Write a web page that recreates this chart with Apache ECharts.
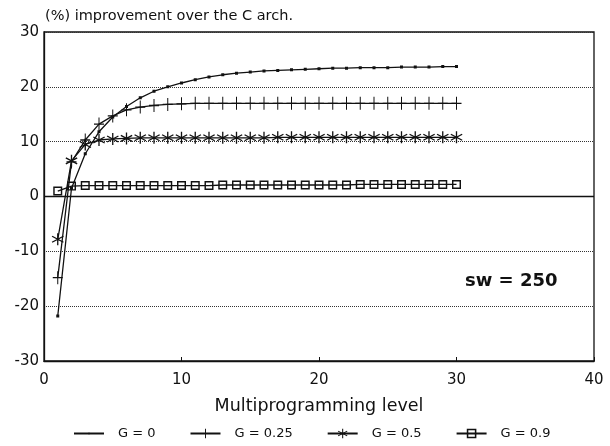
<!DOCTYPE html>
<html>
<head>
<meta charset="utf-8">
<script src="https://cdn.jsdelivr.net/npm/echarts@6/dist/echarts.min.js"></script>
<style>
  html, body { margin: 0; padding: 0; background: #fff; }
  #chart { width: 610px; height: 446px; }
</style>
</head>
<body>
<div id="chart"></div>
<script>
// multiprogramming level 1..30
var levels = [1, 2, 3, 4, 5, 6, 7, 8, 9, 10, 11, 12, 13, 14, 15,
              16, 17, 18, 19, 20, 21, 22, 23, 24, 25, 26, 27, 28, 29, 30];

var g0   = [-21.8, 1.5, 7.8, 11.8, 14.5, 16.4, 18.0, 19.2, 20.0, 20.7,
            21.3, 21.8, 22.2, 22.5, 22.7, 22.9, 23.0, 23.1, 23.2, 23.3,
            23.4, 23.4, 23.5, 23.5, 23.5, 23.6, 23.6, 23.6, 23.7, 23.7];
var g025 = [-14.8, 6.3, 10.3, 13.2, 14.7, 15.8, 16.3, 16.6, 16.8, 16.9,
            17.0, 17.0, 17.0, 17.0, 17.0, 17.0, 17.0, 17.0, 17.0, 17.0,
            17.0, 17.0, 17.0, 17.0, 17.0, 17.0, 17.0, 17.0, 17.0, 17.0];
var g05  = [-7.8, 6.5, 9.5, 10.3, 10.5, 10.6, 10.7, 10.7, 10.7, 10.7,
            10.7, 10.7, 10.7, 10.7, 10.7, 10.7, 10.8, 10.8, 10.8, 10.8,
            10.8, 10.8, 10.8, 10.8, 10.8, 10.8, 10.8, 10.8, 10.8, 10.8];
var g09  = [1.0, 1.9, 2.0, 2.0, 2.0, 2.0, 2.0, 2.0, 2.0, 2.0,
            2.0, 2.0, 2.1, 2.1, 2.1, 2.1, 2.1, 2.1, 2.1, 2.1,
            2.1, 2.1, 2.2, 2.2, 2.2, 2.2, 2.2, 2.2, 2.2, 2.2];

var seriesNames = ['G = 0', 'G = 0.25', 'G = 0.5', 'G = 0.9'];
var yTicks = [-30, -20, -10, 0, 10, 20, 30];
var xTicks = [0, 10, 20, 30, 40];

// marker shapes (filled outlines so they work as path symbols)
// tiny dot inside an empty 20x20 box, so it stays small in the legend too
var dotPath = 'path://M0,0L0,0ZM20,20L20,20ZM8.5,8.5h3v3h-3z';
var plusPath = 'path://M9,0h2v20h-2zM0,9h20v2h-20z';
var starPath = 'path://M9,0h2v20h-2z' +
  'M1.84,4.13L19.16,14.13L18.16,15.87L0.84,5.87z' +
  'M0.84,14.13L18.16,4.13L19.16,5.87L1.84,15.87z';
var boxPath = 'path://M0,0h10v10h-10zM1.6,1.6v6.8h6.8v-6.8z';

function pairs(ys) {
  return levels.map(function (x, i) { return [x, ys[i]]; });
}

var font = '"DejaVu Sans", Verdana, sans-serif';
var black = '#111';

function line(name, ys, symbol, size) {
  return {
    name: name,
    type: 'line',
    data: pairs(ys),
    symbol: symbol,
    symbolSize: size,
    showAllSymbol: true,
    color: black,
    lineStyle: { color: black, width: 1.3 },
    itemStyle: { color: black, borderWidth: 0 },
    animation: false
  };
}

var myChart = echarts.init(document.getElementById('chart'));

var series = [
  line(seriesNames[0], g0, dotPath, 20),
  line(seriesNames[1], g025, plusPath, [10, 13]),
  line(seriesNames[2], g05, starPath, [12, 12]),
  line(seriesNames[3], g09, boxPath, [9, 9])
];
// solid zero line
series[0].markLine = {
  silent: true,
  symbol: 'none',
  label: { show: false },
  lineStyle: { color: black, type: 'solid', width: 1.3 },
  data: [{ yAxis: 0 }]
};

var option = {
  backgroundColor: '#fff',
  animation: false,
  title: [
    {
      text: '(%) improvement over the C arch.',
      left: 40, top: 4,
      textStyle: { fontFamily: font, fontSize: 14.5, fontWeight: 'normal', color: black }
    },
    {
      text: 'sw = 250',
      left: 460, top: 267,
      textStyle: { fontFamily: font, fontSize: 18, fontWeight: 'bold', color: black }
    }
  ],
  grid: {
    left: 44, right: 16, top: 32, bottom: 85,
    show: true, borderColor: black, borderWidth: 1.3
  },
  legend: {
    data: seriesNames,
    top: 422,
    left: 68,
    itemWidth: 30,
    itemHeight: 12,
    itemGap: 34,
    textStyle: { fontFamily: font, fontSize: 13, color: black, padding: [0, 0, 0, 9] }
  },
  xAxis: {
    type: 'value',
    min: xTicks[0], max: xTicks[xTicks.length - 1], interval: 10,
    name: 'Multiprogramming level',
    nameLocation: 'middle',
    nameGap: 36,
    nameTextStyle: { fontFamily: font, fontSize: 17.5, color: black },
    axisLine: { onZero: false, lineStyle: { color: black, width: 1.3 } },
    axisTick: { inside: true, length: 4, lineStyle: { color: black } },
    axisLabel: { fontFamily: font, fontSize: 15, color: black, margin: 12 },
    splitLine: { show: false }
  },
  yAxis: {
    type: 'value',
    min: yTicks[0], max: yTicks[yTicks.length - 1], interval: 10,
    axisLine: { lineStyle: { color: black, width: 1.3 } },
    axisTick: { show: false },
    axisLabel: { fontFamily: font, fontSize: 15, color: black, margin: 5 },
    splitLine: { show: true, lineStyle: { color: '#333', type: 'dotted', width: 1 } }
  },
  series: series
};

myChart.setOption(option);
</script>
</body>
</html>
